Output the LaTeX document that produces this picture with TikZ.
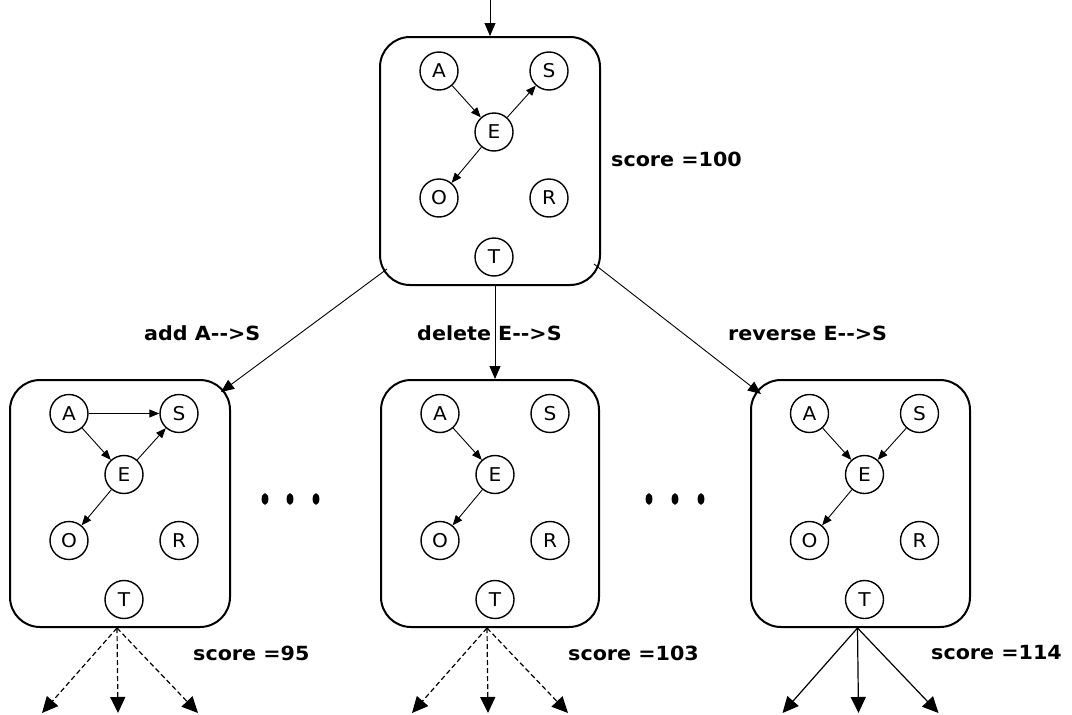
\documentclass[tikz,border=0pt]{standalone}
\usepackage{fontspec}
\setmainfont{DejaVu Sans}[FakeStretch=1.06]
\usetikzlibrary{arrows.meta}
\begin{document}
\begin{tikzpicture}[x=1pt,y=-1pt,
  box/.style={draw,line width=2pt,rounded corners=30pt,minimum width=220pt,minimum height=247pt,inner sep=0pt},
  var/.style={draw,circle,line width=1.4pt,minimum size=38pt,inner sep=0pt,font=\fontsize{19}{21}\selectfont},
  dep/.style={line width=0.9pt,-{Triangle[length=10pt,width=8pt]}},
  move/.style={line width=0.9pt,-{Triangle[length=13pt,width=11pt]}},
  succ/.style={line width=1.2pt,-{Triangle[length=16pt,width=15pt]}},
  dsucc/.style={succ,dash pattern=on 5pt off 3pt},
  lbl/.style={font=\bfseries\fontsize{19.5}{22}\selectfont,inner sep=0pt,anchor=west},
  dot/.style={fill=black}]
\useasboundingbox (0,0) rectangle (1072,715);

% boxes
\node[box,minimum height=248pt] (top) at (490,161) {};
\node[box] (bl) at (120,503.5) {};
\node[box,minimum width=218pt] (bm) at (490,503.5) {};
\node[box,minimum width=219pt] (br) at (860.5,503.5) {};

% variables in each box
\foreach \b/\cx/\cy in {top/490/161, bl/120/503.5, bm/491/503.5, br/860.5/503.5}{
  \node[var] (\b A) at (\cx-51,\cy-90) {A};
  \node[var] (\b S) at (\cx+59,\cy-90) {S};
  \node[var] (\b E) at (\cx+4,\cy-29) {E};
  \node[var] (\b O) at (\cx-51,\cy+37) {O};
  \node[var] (\b R) at (\cx+59,\cy+37) {R};
  \node[var] (\b T) at (\cx+4,\cy+96) {T};
}

% dependencies
\draw[dep] (topA) -- (topE);
\draw[dep] (topE) -- (topS);
\draw[dep] (topE) -- (topO);

\draw[dep] (blA) -- (blS);
\draw[dep] (blA) -- (blE);
\draw[dep] (blE) -- (blS);
\draw[dep] (blE) -- (blO);

\draw[dep] (bmA) -- (bmE);
\draw[dep] (bmE) -- (bmO);

\draw[dep] (brA) -- (brE);
\draw[dep] (brS) -- (brE);
\draw[dep] (brE) -- (brO);

% incoming arrow
\coordinate (start) at (490,-2);
\draw[move] (start) -- (top.north);

% moves
\draw[move] ([shift={(8,-17)}]top.south west) -- ([shift={(-10,13)}]bl.north east);
\draw[move] ([xshift=5pt]top.south) -- ([xshift=5pt]bm.north);
\draw[move] ([shift={(-7,-22)}]top.south east) -- ([shift={(11,15)}]br.north west);

% move labels
\node[lbl] (l1) at (144,333) {add A-{}->S};
\node[lbl] (l2) at (417,333) {delete E-{}->S};
\node[lbl] (l3) at (728,333) {reverse E-{}->S};

% scores
\node[lbl] (s0) at (611,159) {score =100};
\node[lbl] (s1) at (193,653) {score =95};
\node[lbl] (s2) at (568,653) {score =103};
\node[lbl] (s3) at (931,653) {score =114};

% successors
\foreach \b/\st in {bl/dsucc, bm/dsucc, br/succ}{
  \coordinate (\b apex) at ([xshift=-3pt]\b.south);
  \coordinate (\b t1) at ([shift={(-75,85)}]\b apex);
  \coordinate (\b t2) at ([shift={(1,85)}]\b apex);
  \coordinate (\b t3) at ([shift={(81,85)}]\b apex);
  \draw[\st] (\b apex) -- (\b t1);
  \draw[\st] (\b apex) -- (\b t2);
  \draw[\st] (\b apex) -- (\b t3);
}

% ellipsis dots
\foreach \x in {265,290,316,649,675,701}{
  \fill[dot] (\x,499) ellipse [x radius=3.4pt,y radius=5.8pt];
}
\end{tikzpicture}
\end{document}
